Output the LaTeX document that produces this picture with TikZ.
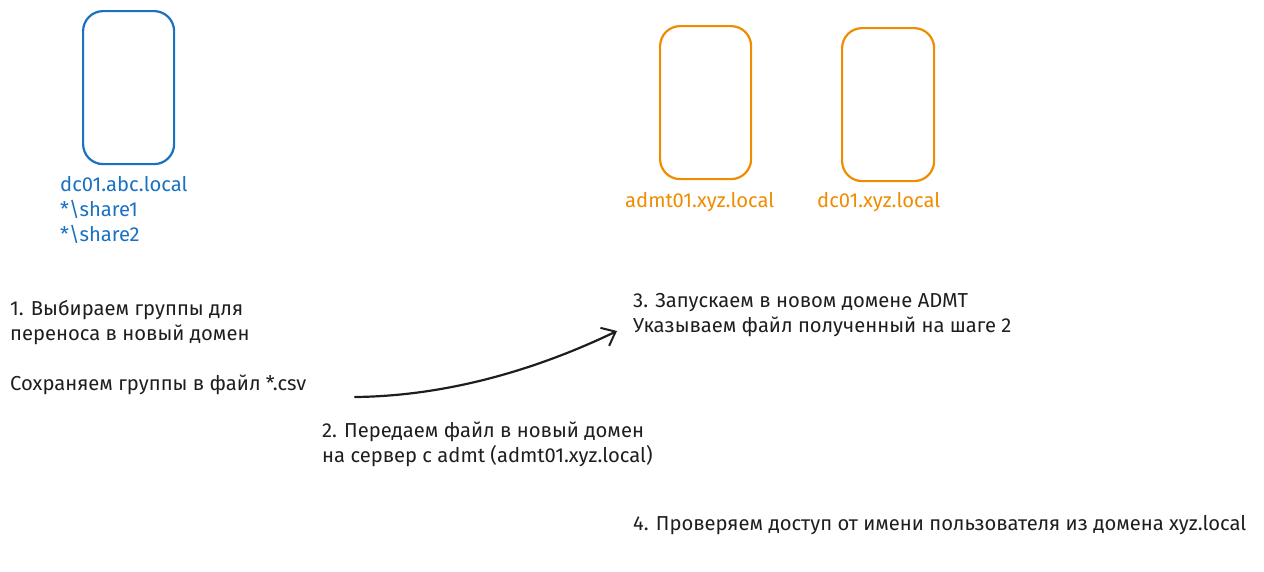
\documentclass[tikz,border=0pt]{standalone}
\usepackage{fontspec}
\setmainfont{Fira Sans}
\usetikzlibrary{arrows.meta}
\definecolor{eblue}{HTML}{1971C2}
\definecolor{eorange}{HTML}{F08C00}
\definecolor{eink}{HTML}{1E1E1E}
\begin{document}
\begin{tikzpicture}[x=1pt,y=-1pt,
  server/.style={draw, line width=2.2pt, rounded corners=20pt, inner sep=0pt, anchor=north west},
  lbl/.style={inner sep=0pt, anchor=base west, align=left, font=\fontsize{20.2}{25}\selectfont},
  conn/.style={draw=eink, line width=2.2pt, line cap=round, -{Straight Barb[length=12pt,width=20pt,line width=2pt]}}]
\useasboundingbox (0,0) rectangle (1264,571);
% servers
\node[server, draw=eblue, minimum width=91pt, minimum height=153pt] (src) at (82,10) {};
\node[server, draw=eorange, minimum width=91pt, minimum height=153pt] (admt) at (659,25) {};
\node[server, draw=eorange, minimum width=92pt, minimum height=153pt] (dst) at (841,27) {};
% server labels (anchor = baseline of last line)
\node[lbl, text=eblue] (srclbl) at (60,241) {dc01.abc.local\\*\textbackslash share1\\*\textbackslash share2};
\node[lbl, text=eorange] (admtlbl) at (625,207) {admt01.xyz.local};
\node[lbl, text=eorange] (dstlbl) at (817,207) {dc01.xyz.local};
% steps
\node[lbl, text=eink] (step1) at (10,390) {1. Выбираем группы для\\переноса в новый домен\\[25pt]Сохраняем группы в файл *.csv};
\node[lbl, text=eink] (step2) at (322,462) {2. Передаем файл в новый домен\\на сервер с admt (admt01.xyz.local)};
\node[lbl, text=eink] (step3) at (633,332) {3. Запускаем в новом домене ADMT\\Указываем файл полученный на шаге 2};
\node[lbl, text=eink] (step4) at (633,530) {4. Проверяем доступ от имени пользователя из домена xyz.local};
% arrow
\coordinate (a0) at (355,397);
\coordinate (a1) at (617,331);
\draw[conn] (a0) .. controls (450,396) and (540,368) .. (a1);
\end{tikzpicture}
\end{document}
